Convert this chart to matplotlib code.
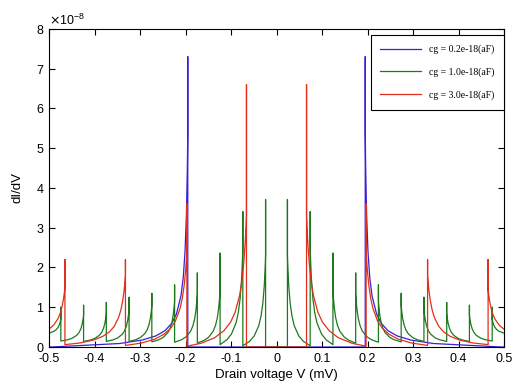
import matplotlib
matplotlib.use("Agg")
import matplotlib.pyplot as plt
from matplotlib.ticker import ScalarFormatter
import numpy as np

# dI/dV values are in units of 1e-8, voltages in mV
scale = 1e-8

# branch shape next to a spike: distance from the spike (mV) -> fraction of the way up
branch_d = [0.3, 0.15, 0.1, 0.07, 0.05, 0.035, 0.025, 0.015, 0.01, 0.006, 0.003, 0.001, 0.0]
blue_f = [0.016, 0.032, 0.048, 0.067, 0.091, 0.125, 0.167, 0.25, 0.333, 0.455, 0.625, 0.833, 1.0]
green_f = [0.023, 0.045, 0.065, 0.091, 0.123, 0.167, 0.219, 0.318, 0.412, 0.538, 0.7, 0.875, 1.0]
red_f = [0.038, 0.074, 0.107, 0.146, 0.194, 0.255, 0.324, 0.444, 0.545, 0.667, 0.8, 0.923, 1.0]

# cg = 0.2e-18
blue_neg_x = [-0.195]
blue_neg_peak = [7.3]
blue_neg_top = [5.4]
blue_neg_low = [0.0]
blue_start = (-0.5, 0.0)
blue_pos_x = [0.195]
blue_pos_peak = [7.3]
blue_pos_top = [5.4]
blue_pos_low = [0.0]
blue_end = (0.5, 0.0)

# cg = 1.0e-18
green_neg_x = [-0.474, -0.424, -0.374, -0.324, -0.274, -0.224, -0.174, -0.124, -0.074, -0.024]
green_neg_peak = [1.0, 1.05, 1.12, 1.25, 1.35, 1.56, 1.86, 2.36, 3.4, 3.71]
green_neg_top = [0.7, 0.8, 0.85, 0.95, 1.05, 1.15, 1.35, 1.45, 2.5, 2.3]
green_neg_low = [0.15, 0.14, 0.14, 0.14, 0.13, 0.12, 0.1, 0.06, 0.03, 0.0]
green_start = (-0.5, 0.35)
green_pos_x = [0.024, 0.074, 0.124, 0.174, 0.224, 0.274, 0.324, 0.374, 0.424, 0.474]
green_pos_peak = [3.71, 3.4, 2.36, 1.86, 1.56, 1.35, 1.25, 1.12, 1.05, 1.0]
green_pos_top = [2.3, 2.5, 1.45, 1.35, 1.15, 1.05, 0.95, 0.85, 0.8, 0.7]
green_pos_low = [0.0, 0.03, 0.06, 0.1, 0.12, 0.13, 0.14, 0.14, 0.14, 0.15]
green_end = (0.5, 0.35)

# cg = 3.0e-18
red_neg_x = [-0.465, -0.332, -0.197, -0.066]
red_neg_peak = [2.2, 2.2, 3.6, 6.6]
red_neg_top = [1.5, 1.8, 2.4, 3.3]
red_neg_low = [0.06, 0.04, 0.02, 0.0]
red_start = (-0.5, 0.45)
red_pos_x = [0.066, 0.197, 0.332, 0.465]
red_pos_peak = [6.6, 3.6, 2.2, 2.2]
red_pos_top = [3.3, 2.4, 1.8, 1.45]
red_pos_low = [0.0, 0.02, 0.04, 0.06]
red_end = (0.5, 0.45)

labels = ['cg = 0.2e-18(aF)', 'cg = 1.0e-18(aF)', 'cg = 3.0e-18(aF)']
colors = ['#3b1fd6', '#1c7a1c', '#e0301c']
xticks = [-0.5, -0.4, -0.3, -0.2, -0.1, 0, 0.1, 0.2, 0.3, 0.4, 0.5]
xtick_labels = ['-0.5', '-0.4', '-0.3', '-0.2', '-0.1', '0', '0.1', '0.2', '0.3', '0.4', '0.5']
yticks = [0, 1, 2, 3, 4, 5, 6, 7, 8]


def branch(length, frac):
    # distances from the spike inside a gap of the given length, and the
    # fraction of the rise at each, set to 0 at the far end of the gap
    d = np.array(branch_d)
    f = np.array(frac)
    f0 = np.interp(length, d[::-1], f[::-1])
    keep = d < length
    dd = np.concatenate([[length], d[keep]])
    ff = np.concatenate([[0.0], (f[keep] - f0) / (1 - f0)])
    return dd, ff


def build(frac, neg_x, neg_peak, neg_top, neg_low, start,
          pos_x, pos_peak, pos_top, pos_low, end):
    xs, ys = [], []
    xp, yp = start
    # negative bias: curve climbs to each spike from the left
    for x0, pk, tp, lo in zip(neg_x, neg_peak, neg_top, neg_low):
        dd, ff = branch(x0 - xp, frac)
        xs.extend(x0 - dd)
        ys.extend(yp + (tp - yp) * ff)
        xs.extend([x0, x0])
        ys.extend([pk, lo])
        xp, yp = x0, lo
    # positive bias: spike, then decay to the right
    nxt = list(pos_x[1:]) + [end[0]]
    nlo = list(pos_low[1:]) + [end[1]]
    for x0, pk, tp, lo, x1, y1 in zip(pos_x, pos_peak, pos_top, pos_low, nxt, nlo):
        xs.extend([x0, x0])
        ys.extend([lo, pk])
        dd, ff = branch(x1 - x0, frac)
        xs.extend((x0 + dd)[::-1])
        ys.extend((y1 + (tp - y1) * ff)[::-1])
    return np.array(xs), np.array(ys) * scale


series = [
    build(blue_f, blue_neg_x, blue_neg_peak, blue_neg_top, blue_neg_low, blue_start,
          blue_pos_x, blue_pos_peak, blue_pos_top, blue_pos_low, blue_end),
    build(green_f, green_neg_x, green_neg_peak, green_neg_top, green_neg_low, green_start,
          green_pos_x, green_pos_peak, green_pos_top, green_pos_low, green_end),
    build(red_f, red_neg_x, red_neg_peak, red_neg_top, red_neg_low, red_start,
          red_pos_x, red_pos_peak, red_pos_top, red_pos_low, red_end),
]

plt.rcParams['font.family'] = ['Liberation Sans', 'DejaVu Sans']

fig = plt.figure(figsize=(5.18, 3.91), dpi=100)
ax = fig.add_axes([0.0946, 0.1125, 0.8784, 0.8135])

for (x, y), c, lab in zip(series, colors, labels):
    ax.plot(x, y, color=c, lw=0.9, label=lab)

ax.set_xlim(-0.5, 0.5)
ax.set_ylim(0, 8e-8)
ax.set_xticks(xticks)
ax.set_xticklabels(xtick_labels)
ax.set_yticks(np.array(yticks) * scale)
fmt = ScalarFormatter(useMathText=True)
fmt.set_powerlimits((-3, 3))
ax.yaxis.set_major_formatter(fmt)
ax.tick_params(direction='in', top=True, right=True, labelsize=9, length=4, width=0.8)
ax.tick_params(axis='x', pad=4.5)
ax.tick_params(axis='y', pad=3)
ax.yaxis.get_offset_text().set_fontsize(9)
for s in ax.spines.values():
    s.set_linewidth(0.8)

ax.set_xlabel('Drain voltage V (mV)', fontsize=9.5, labelpad=3)
ax.set_ylabel('dI/dV', fontsize=9.5, labelpad=9)

leg = ax.legend(loc='upper right', bbox_to_anchor=(1.0, 0.981), borderaxespad=0,
                frameon=True, fancybox=False, framealpha=1, edgecolor='black',
                handlelength=4.2, labelspacing=1.35, borderpad=1.0,
                prop={'family': 'Liberation Serif', 'size': 7})
leg.get_frame().set_linewidth(0.8)

fig.savefig('out.png', dpi=100)
